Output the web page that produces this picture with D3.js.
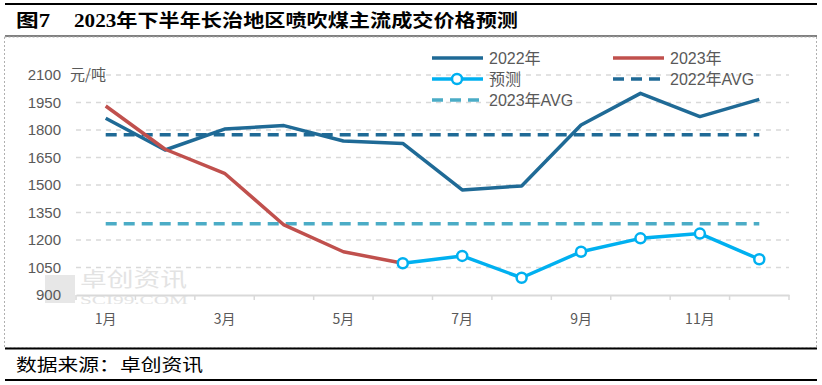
<!DOCTYPE html>
<html>
<head>
<meta charset="utf-8">
<script src="https://cdn.jsdelivr.net/npm/d3@7"></script>
<style>
  body { margin: 0; background: #fff; }
  svg { display: block; }
</style>
</head>
<body>
<svg width="822" height="385"></svg>
<script>
// data
const months = ["1月", "2月", "3月", "4月", "5月", "6月", "7月", "8月", "9月", "10月", "11月", "12月"];
const yTicks = [900, 1050, 1200, 1350, 1500, 1650, 1800, 1950, 2100];
const price2022 = [1864, 1691, 1805, 1824, 1740, 1727, 1473, 1495, 1827, 2000, 1873, 1967];
const price2023 = [1931, 1695, 1564, 1282, 1136, 1073, null, null, null, null, null, null];
const forecast = [null, null, null, null, null, 1073, 1113, 994, 1136, 1209, 1235, 1095];
const avg2022 = 1774;
const avg2023 = 1289;

const svg = d3.select("svg");
const plotLeft = 76, plotRight = 789, plotTop = 75, plotBottom = 295;
const font = "'Liberation Sans', 'Noto Sans CJK SC', sans-serif";
const grey = "#595959";

const x = d3.scaleBand().domain(months).range([plotLeft, plotRight]);
const y = d3.scaleLinear().domain([900, 2100]).range([plotBottom, plotTop]);
const cx = (m) => x(m) + x.bandwidth() / 2;

// frame lines
svg.append("line").attr("x1", 5).attr("x2", 817).attr("y1", 4).attr("y2", 4)
  .attr("stroke", "#000").attr("stroke-width", 2);
svg.append("line").attr("x1", 5).attr("x2", 817).attr("y1", 36).attr("y2", 36)
  .attr("stroke", "#000").attr("stroke-width", 1);
svg.append("rect").attr("x", 4.5).attr("y", 37).attr("width", 812).attr("height", 311)
  .attr("fill", "none").attr("stroke", "#b0b0b0").attr("stroke-dasharray", "2,2");
svg.append("line").attr("x1", 5).attr("x2", 817).attr("y1", 348.5).attr("y2", 348.5)
  .attr("stroke", "#000").attr("stroke-width", 2);
svg.append("line").attr("x1", 5).attr("x2", 817).attr("y1", 380).attr("y2", 380)
  .attr("stroke", "#000").attr("stroke-width", 2);

// title
svg.append("text").attr("x", 16).attr("y", 27)
  .style("font-family", "'Liberation Serif', 'Noto Sans CJK SC', serif")
  .style("font-weight", "bold").style("font-size", "18px")
  .attr("textLength", 34).attr("lengthAdjust", "spacingAndGlyphs")
  .text("图7");
svg.append("text").attr("x", 74).attr("y", 27)
  .style("font-family", "'Liberation Serif', 'Noto Sans CJK SC', serif")
  .style("font-weight", "bold").style("font-size", "18px")
  .attr("textLength", 444).attr("lengthAdjust", "spacingAndGlyphs")
  .text("2023年下半年长治地区喷吹煤主流成交价格预测");

// source
svg.append("text").attr("x", 16).attr("y", 371)
  .style("font-family", "'Noto Sans CJK SC', sans-serif")
  .style("font-size", "17px")
  .attr("textLength", 187).attr("lengthAdjust", "spacingAndGlyphs")
  .text("数据来源：卓创资讯");

// watermark
const wm = svg.append("g").attr("opacity", 0.5);
wm.append("rect").attr("x", 45).attr("y", 275).attr("width", 30).attr("height", 28).attr("fill", "#d0d0d0");
wm.append("text").attr("x", 80).attr("y", 287)
  .style("font-family", "'Noto Sans CJK SC', sans-serif").style("font-size", "20px")
  .attr("fill", "#c8c8c8").attr("textLength", 107).attr("lengthAdjust", "spacingAndGlyphs")
  .text("卓创资讯");
wm.append("text").attr("x", 80).attr("y", 304)
  .style("font-family", "'Liberation Serif', serif").style("font-size", "12px")
  .attr("fill", "#c8c8c8").attr("textLength", 108).attr("lengthAdjust", "spacingAndGlyphs")
  .text("SCI99.COM");

// grid lines
svg.append("g").selectAll("line")
  .data(yTicks.filter((d) => d > 900))
  .join("line")
  .attr("x1", plotLeft).attr("x2", plotRight)
  .attr("y1", (d) => y(d)).attr("y2", (d) => y(d))
  .attr("stroke", "#d9d9d9").attr("stroke-width", 1.5)
  .attr("stroke-dasharray", "5,5");

// y labels
svg.append("g").selectAll("text")
  .data(yTicks)
  .join("text")
  .attr("x", 61).attr("y", (d) => y(d) + 5)
  .attr("text-anchor", "end")
  .style("font-family", font).style("font-size", "15px")
  .attr("fill", grey)
  .text((d) => d);

svg.append("text").attr("x", 70).attr("y", 80)
  .style("font-family", "'Noto Sans CJK SC', sans-serif").style("font-size", "15px")
  .attr("fill", grey)
  .text("元/吨");

// x axis
const xAxis = svg.append("g")
  .attr("transform", `translate(0,${plotBottom})`)
  .call(d3.axisBottom(x).tickSize(0).tickFormat((d, i) => (i % 2 === 0 ? d : "")));
xAxis.select(".domain").attr("stroke", "#d9d9d9").attr("stroke-width", 2);
xAxis.selectAll("text")
  .attr("y", 29).attr("dy", 0)
  .style("font-family", "'Noto Sans CJK SC', sans-serif").style("font-size", "14px")
  .attr("fill", grey);
const boundaries = months.map((m) => x(m)).concat([plotRight]);
xAxis.selectAll(".bound")
  .data(boundaries)
  .join("line")
  .attr("class", "bound")
  .attr("x1", (d) => d).attr("x2", (d) => d)
  .attr("y1", 0).attr("y2", 5)
  .attr("stroke", "#d9d9d9").attr("stroke-width", 1.5);

// average lines
const avgLine = (val, color) =>
  svg.append("line")
    .attr("x1", cx(months[0])).attr("x2", cx(months[11]))
    .attr("y1", y(val)).attr("y2", y(val))
    .attr("stroke", color).attr("stroke-width", 3.5)
    .attr("stroke-dasharray", "11,7");
avgLine(avg2022, "#1f6a96");
avgLine(avg2023, "#4bacc6");

// series lines
const line = d3.line()
  .defined((d) => d != null)
  .x((d, i) => cx(months[i]))
  .y((d) => y(d));

svg.append("path").datum(price2022)
  .attr("d", line).attr("fill", "none")
  .attr("stroke", "#1f6a96").attr("stroke-width", 3.5).attr("stroke-linejoin", "round");
svg.append("path").datum(price2023)
  .attr("d", line).attr("fill", "none")
  .attr("stroke", "#c0504d").attr("stroke-width", 3.5).attr("stroke-linejoin", "round");
svg.append("path").datum(forecast)
  .attr("d", line).attr("fill", "none")
  .attr("stroke", "#00b0f0").attr("stroke-width", 3.5).attr("stroke-linejoin", "round");
svg.append("g").selectAll("circle")
  .data(forecast.map((v, i) => ({ v, i })).filter((d) => d.v != null))
  .join("circle")
  .attr("cx", (d) => cx(months[d.i])).attr("cy", (d) => y(d.v))
  .attr("r", 5)
  .attr("fill", "#fff").attr("stroke", "#00b0f0").attr("stroke-width", 2.5);

// legend
const legendItems = [
  { name: "2022年", color: "#1f6a96", dash: null, marker: false, lx: 432, ly: 58 },
  { name: "2023年", color: "#c0504d", dash: null, marker: false, lx: 613, ly: 58 },
  { name: "预测", color: "#00b0f0", dash: null, marker: true, lx: 432, ly: 79 },
  { name: "2022年AVG", color: "#1f6a96", dash: "11,7", marker: false, lx: 613, ly: 79 },
  { name: "2023年AVG", color: "#4bacc6", dash: "11,7", marker: false, lx: 432, ly: 100 },
];
const lg = svg.append("g").selectAll("g")
  .data(legendItems)
  .join("g")
  .attr("transform", (d) => `translate(${d.lx},${d.ly})`);
lg.append("line")
  .attr("x1", 0).attr("x2", 51).attr("y1", 0).attr("y2", 0)
  .attr("stroke", (d) => d.color).attr("stroke-width", 3.5)
  .attr("stroke-dasharray", (d) => d.dash);
lg.filter((d) => d.marker).append("circle")
  .attr("cx", 25).attr("cy", 0).attr("r", 5)
  .attr("fill", "#fff").attr("stroke", (d) => d.color).attr("stroke-width", 2.5);
lg.append("text")
  .attr("x", 57).attr("y", 6)
  .style("font-family", font).style("font-size", "16px")
  .attr("fill", grey)
  .text((d) => d.name);
</script>
</body>
</html>
